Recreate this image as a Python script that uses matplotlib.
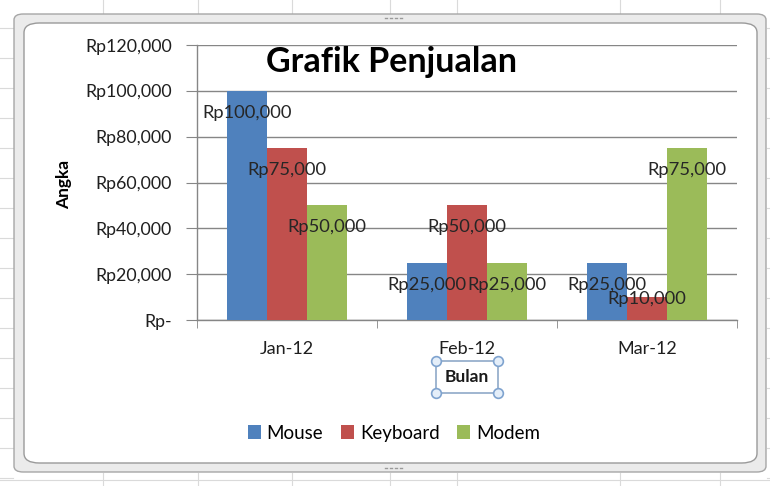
import matplotlib.pyplot as plt
import numpy as np
from matplotlib.patches import FancyBboxPatch, Rectangle

# data grafik penjualan
bulan = ['Jan-12', 'Feb-12', 'Mar-12']
seri = ['Mouse', 'Keyboard', 'Modem']
mouse = [100000, 25000, 25000]
keyboard = [75000, 50000, 10000]
modem = [50000, 25000, 75000]
warna = ['#4F81BD', '#C0504D', '#9BBB59']
y_ticks = [0, 20000, 40000, 60000, 80000, 100000, 120000]

plt.rcParams['font.family'] = ['Lato', 'DejaVu Sans']


def rupiah(v):
    if v == 0:
        return 'Rp-'
    return 'Rp{:,.0f}'.format(v)


W, H = 770, 486
fig = plt.figure(figsize=(7.7, 4.86), dpi=100)
fig.patch.set_facecolor('white')


def fx(px):
    return px / W


def fy(py):
    return 1 - py / H


# latar spreadsheet (garis sel samar)
for yy in range(28, 486, 30):
    fig.add_artist(plt.Line2D([0, fx(13)], [fy(yy), fy(yy)], color='#DADADA', lw=0.8, zorder=-5))
    fig.add_artist(plt.Line2D([fx(767), 1], [fy(yy), fy(yy)], color='#DADADA', lw=0.8, zorder=-5))
for xx in [103, 198, 292, 390, 457, 620, 720]:
    fig.add_artist(plt.Line2D([fx(xx), fx(xx)], [fy(0), fy(13)], color='#DADADA', lw=0.8, zorder=-5))
    fig.add_artist(plt.Line2D([fx(xx), fx(xx)], [fy(473), 0], color='#DADADA', lw=0.8, zorder=-5))
fig.add_artist(plt.Line2D([0, 1], [fy(480), fy(480)], color='#DADADA', lw=0.8, zorder=-5))

# bingkai chart
luar = FancyBboxPatch((fx(14), fy(472)), fx(766) - fx(14), fy(14) - fy(472),
                      boxstyle='round,pad=0,rounding_size=0.012',
                      transform=fig.transFigure, facecolor='#EBEBEB',
                      edgecolor='#A6A6A6', lw=1.0, zorder=-4)
fig.add_artist(luar)
dalam = FancyBboxPatch((fx(24), fy(463)), fx(757) - fx(24), fy(23) - fy(463),
                       boxstyle='round,pad=0,rounding_size=0.02',
                       transform=fig.transFigure, facecolor='white',
                       edgecolor='#9A9A9A', lw=1.0, zorder=-3)
fig.add_artist(dalam)
for xx in [385, 390, 395, 400]:
    fig.add_artist(plt.Line2D([fx(xx), fx(xx + 2)], [fy(18), fy(18)], color='#9A9A9A', lw=1, zorder=-2))
    fig.add_artist(plt.Line2D([fx(xx), fx(xx + 2)], [fy(468), fy(468)], color='#9A9A9A', lw=1, zorder=-2))

ax = fig.add_axes([fx(197), fy(320), fx(737) - fx(197), fy(45) - fy(320)])
ax.set_facecolor('none')
ax.set_zorder(1)

x = np.arange(len(bulan))
lebar = 0.2222
data = [mouse, keyboard, modem]
for i, (nama, nilai) in enumerate(zip(seri, data)):
    pos = x + (i - 1) * lebar
    ax.bar(pos, nilai, width=lebar, color=warna[i], label=nama, zorder=3)
    for p, v in zip(pos, nilai):
        ly = max(v - 9600, 9200)
        ax.text(p, ly, rupiah(v), ha='center', va='center', fontsize=13.2,
                color='#262626', zorder=4)

ax.set_xlim(-0.5, 2.5)
ax.set_ylim(0, 120000)
ax.set_yticks(y_ticks)
ax.set_yticklabels([rupiah(v) for v in y_ticks], fontsize=12.8, color='#1f1f1f')
ax.set_xticks(x)
ax.set_xticklabels(bulan, fontsize=13, color='#1f1f1f')
ax.tick_params(axis='x', length=0, pad=15)
ax.tick_params(axis='y', length=8, color='#868686', pad=10)
# tanda kategori di batas
ax.set_xticks([-0.5, 0.5, 1.5, 2.5], minor=True)
ax.tick_params(axis='x', which='minor', length=6, color='#868686')
ax.grid(axis='y', color='#868686', lw=1, zorder=0)
for s in ['top', 'right']:
    ax.spines[s].set_visible(False)
for s in ['left', 'bottom']:
    ax.spines[s].set_color('#868686')
    ax.spines[s].set_linewidth(1)

fig.text(fx(392), fy(62), 'Grafik Penjualan', ha='center', va='center',
         fontsize=24.5, fontweight='bold', color='black', zorder=5)
fig.text(fx(64), fy(184), 'Angka', rotation=90, ha='center', va='center',
         fontsize=12.5, fontweight='bold', color='black')

# judul sumbu x dengan kotak seleksi
fig.text(fx(467), fy(377), 'Bulan', ha='center', va='center',
         fontsize=12.5, fontweight='bold', color='#1a1a1a')
fig.add_artist(Rectangle((fx(436), fy(393)), fx(498) - fx(436), fy(361) - fy(393),
                         transform=fig.transFigure, fill=False,
                         edgecolor='#8FA9C8', lw=1.2))
for cx, cy in [(436, 361), (498, 361), (436, 393), (498, 393)]:
    fig.add_artist(plt.Line2D([fx(cx)], [fy(cy)], marker='o', ms=7,
                              mfc='#E4EEF9', mec='#7FA3CF', mew=1.2))

fig.legend(loc='center', bbox_to_anchor=(fx(394), fy(433)), ncol=3,
           frameon=False, fontsize=13.5, handlelength=0.7, handleheight=0.7,
           handletextpad=0.3, columnspacing=0.95)

fig.savefig('out.png', dpi=100)
